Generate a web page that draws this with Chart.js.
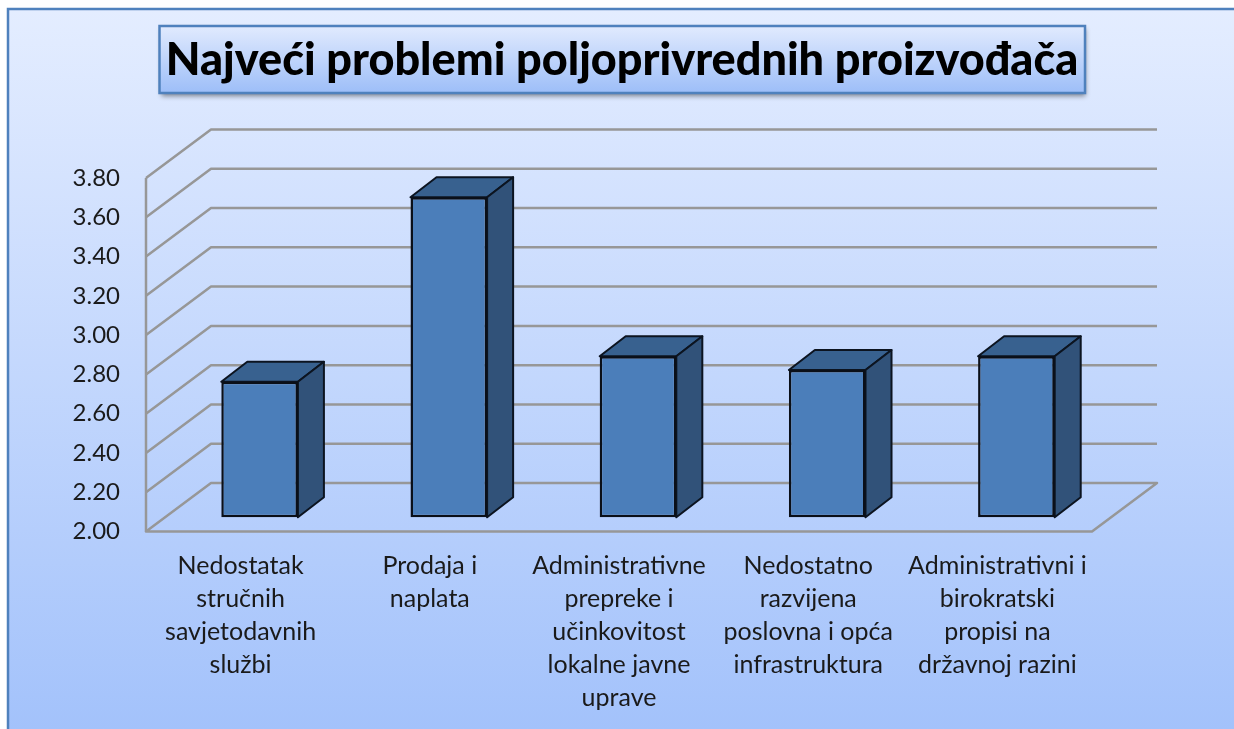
<!DOCTYPE html>
<html>
<head>
<meta charset="utf-8">
<title>Najveći problemi poljoprivrednih proizvođača</title>
<script src="https://cdn.jsdelivr.net/npm/chart.js@4"></script>
<style>
    html, body { margin: 0; padding: 0; background: #fff; overflow: hidden; }
    canvas { display: block; }
</style>
</head>
<body>
<canvas id="chart" width="1234" height="729"></canvas>
<script>
const categories = [
    ['Nedostatak', 'stručnih', 'savjetodavnih', 'službi'],
    ['Prodaja i', 'naplata'],
    ['Administrativne', 'prepreke i', 'učinkovitost', 'lokalne javne', 'uprave'],
    ['Nedostatno', 'razvijena', 'poslovna i opća', 'infrastruktura'],
    ['Administrativni i', 'birokratski', 'propisi na', 'državnoj razini']
];
const values = [2.69, 3.63, 2.82, 2.75, 2.82];
const chartTitle = 'Najveći problemi poljoprivrednih proizvođača';

// profondeur de la perspective 3D
const WALL_DX = 65, WALL_DY = -48.5;
const BAR_SHIFT_X = 19, BAR_SHIFT_Y = -14.2;
const BAR_DX = 26, BAR_DY = -20;

function poly(ctx, pts) {
    ctx.beginPath();
    pts.forEach((p, i) => i ? ctx.lineTo(p[0], p[1]) : ctx.moveTo(p[0], p[1]));
    ctx.closePath();
}

// fond, cadre et boite du titre
const backgroundPlugin = {
    id: 'background',
    beforeDraw(chart) {
        const ctx = chart.ctx;
        const bg = ctx.createLinearGradient(0, 9, 0, 729);
        bg.addColorStop(0, '#e4edff');
        bg.addColorStop(1, '#a3c2fb');
        ctx.save();
        ctx.fillStyle = bg;
        ctx.fillRect(8, 9, 1226, 720);
        ctx.strokeStyle = '#4f81bd';
        ctx.lineWidth = 2.5;
        ctx.beginPath();
        ctx.moveTo(8, 729);
        ctx.lineTo(8, 9);
        ctx.lineTo(1234, 9);
        ctx.stroke();

        const box = ctx.createLinearGradient(0, 25, 0, 93);
        box.addColorStop(0, '#e2ebfe');
        box.addColorStop(1, '#9dbef8');
        ctx.shadowColor = 'rgba(0,0,0,0.45)';
        ctx.shadowBlur = 5;
        ctx.shadowOffsetX = 1;
        ctx.shadowOffsetY = 3;
        ctx.fillStyle = box;
        ctx.fillRect(159.5, 26, 925.5, 67);
        ctx.shadowColor = 'transparent';
        ctx.strokeRect(159.5, 26, 925.5, 67);
        ctx.restore();
    }
};

// murs, sol et lignes de grille en perspective
const wallsPlugin = {
    id: 'walls',
    beforeDatasetsDraw(chart) {
        const ctx = chart.ctx, y = chart.scales.y, a = chart.chartArea;
        const floor = y.getPixelForValue(2);
        ctx.save();
        ctx.strokeStyle = '#979797';
        ctx.lineWidth = 2.5;
        ctx.lineJoin = 'round';
        y.ticks.forEach(t => {
            const py = y.getPixelForValue(t.value);
            if (t.value === 2) return;
            ctx.beginPath();
            ctx.moveTo(a.left, py);
            ctx.lineTo(a.left + WALL_DX, py + WALL_DY);
            ctx.lineTo(a.right + WALL_DX, py + WALL_DY);
            ctx.stroke();
        });
        poly(ctx, [
            [a.left, floor],
            [a.left + WALL_DX, floor + WALL_DY],
            [a.right + WALL_DX, floor + WALL_DY],
            [a.right, floor]
        ]);
        ctx.stroke();
        ctx.beginPath();
        ctx.moveTo(a.left, a.top);
        ctx.lineTo(a.left, a.bottom);
        ctx.stroke();
        ctx.restore();
    },
    beforeDatasetDraw(chart, args) {
        const ctx = chart.ctx;
        ctx.save();
        ctx.translate(BAR_SHIFT_X, BAR_SHIFT_Y);
        ctx.lineJoin = 'round';
        ctx.lineWidth = 2;
        ctx.strokeStyle = '#0c1420';
        args.meta.data.forEach(bar => {
            const l = bar.x - bar.width / 2, r = bar.x + bar.width / 2;
            ctx.fillStyle = '#38618f';
            poly(ctx, [[l, bar.y], [l + BAR_DX, bar.y + BAR_DY], [r + BAR_DX, bar.y + BAR_DY], [r, bar.y]]);
            ctx.fill();
            ctx.stroke();
            ctx.fillStyle = '#315279';
            poly(ctx, [[r, bar.y], [r + BAR_DX, bar.y + BAR_DY], [r + BAR_DX, bar.base + BAR_DY], [r, bar.base]]);
            ctx.fill();
            ctx.stroke();
        });
    },
    afterDatasetDraw(chart) {
        chart.ctx.restore();
    }
};

new Chart(document.getElementById('chart').getContext('2d'), {
    type: 'bar',
    data: {
        labels: categories,
        datasets: [{
            data: values,
            base: 2,
            backgroundColor: '#4b7eba',
            borderColor: '#0a0f18',
            borderWidth: 2.5,
            borderSkipped: false,
            barPercentage: 0.405,
            categoryPercentage: 1,
            clip: false
        }]
    },
    options: {
        responsive: false,
        animation: false,
        layout: { padding: { left: 10 } },
        plugins: {
            legend: { display: false },
            tooltip: { enabled: false },
            title: {
                display: true,
                text: chartTitle,
                color: '#000',
                font: { family: 'Lato', size: 45, weight: '900', lineHeight: 1.2 },
                padding: { top: 33.5, bottom: 90.5 }
            }
        },
        scales: {
            x: {
                grid: { display: false },
                border: { display: false },
                afterFit(scale) { scale.height = 197.5; },
                ticks: {
                    color: '#1a1a1a',
                    font: { family: 'Lato', size: 25, lineHeight: 1.32 },
                    padding: 10,
                    autoSkip: false,
                    maxRotation: 0,
                    minRotation: 0
                }
            },
            y: {
                min: 2,
                max: 3.8,
                grid: { display: false },
                border: { display: false },
                afterFit(scale) { scale.width = 136; },
                ticks: {
                    stepSize: 0.2,
                    color: '#1a1a1a',
                    padding: 18,
                    font: { family: 'Lato', size: 24 },
                    callback: v => v.toFixed(2)
                }
            },
            // espace vide a droite pour centrer le titre
            spacer: {
                position: 'right',
                grid: { display: false },
                border: { display: false },
                ticks: { display: false },
                afterFit(scale) { scale.width = 142; }
            }
        }
    },
    plugins: [backgroundPlugin, wallsPlugin]
});
</script>
</body>
</html>
